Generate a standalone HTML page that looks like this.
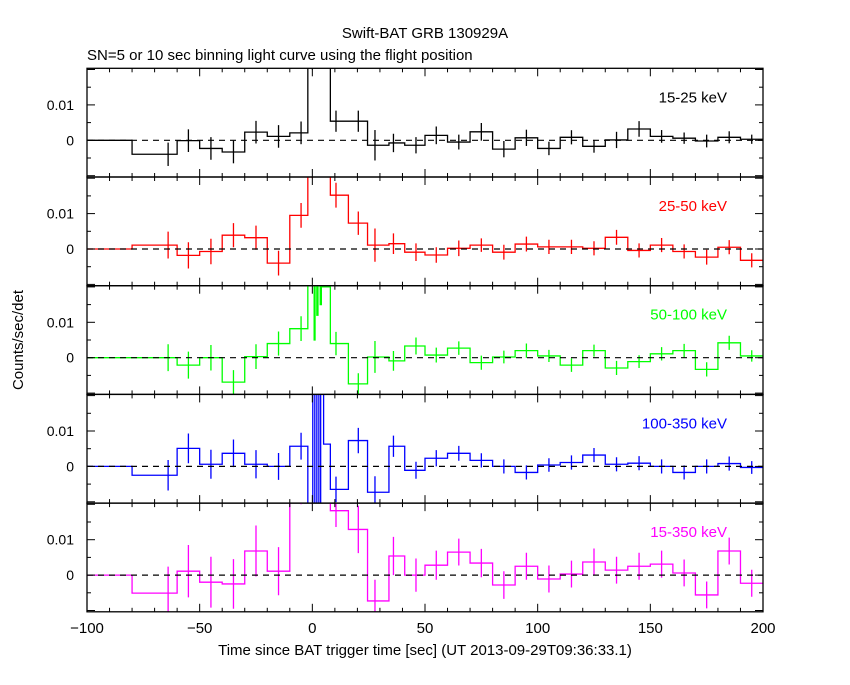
<!DOCTYPE html>
<html><head><meta charset="utf-8"><style>
body{margin:0;background:#fff;}
svg text{font-family:"Liberation Sans",sans-serif;}
</style></head><body>
<svg id="c" width="850" height="680" xmlns="http://www.w3.org/2000/svg">
<rect width="850" height="680" fill="#fff"/>
<text x="425" y="38" font-size="15" text-anchor="middle">Swift-BAT GRB 130929A</text>
<text x="87" y="60" font-size="15">SN=5 or 10 sec binning light curve using the flight position</text>
<text transform="translate(23,340) rotate(-90)" font-size="15" text-anchor="middle">Counts/sec/det</text>
<text x="425" y="655" font-size="15" text-anchor="middle">Time since BAT trigger time [sec] (UT 2013-09-29T09:36:33.1)</text>
</svg>
<script>
const edges=[-100,-80,-60,-50,-40,-30,-20,-10,-2,8,16,24.5,34,41,50,60,70,80,90,100,110,120,130,140,150,160,170,180,190,200];
const errX=[null,-64,-55,-45,-35,-25,-15,-5,0,10.5,20.4,27.8,36,46,55,65,75,85,95,105,115,125,135,145,155,165,175,185,195];
const bandLabels=["15-25 keV","25-50 keV","50-100 keV","100-350 keV","15-350 keV"];
const bandColors=["#000","#f00","#0f0","#00f","#f0f"];
const v1=[0,-3.95,-0.1,-2.3,-3.3,2.3,1.1,2.1,40,5.4,5.4,-1.4,-0.75,-1.4,1.4,-0.5,2.4,-2.5,0.7,-2.3,0.85,-1.7,0.1,3.2,1.1,0.6,-0.2,0.85,0.3];
const e1=[0,3.3,3.2,3.2,3.2,3.2,3.2,3.2,20,3,3,4.3,2.6,2.3,2.5,2.1,2.5,2.3,2.3,1.9,2,1.8,2.3,2.2,1.8,1.6,1.8,1.7,1.3];
const v2=[0,1.1,-1.8,-0.7,3.9,3.2,-4.0,9.5,40,15.2,7.3,1.1,1.5,-0.9,-1.7,0.2,1.1,-0.9,1.4,0.6,0.6,0.2,3.3,-0.4,1.1,-0.7,-2.3,0.5,-3.2];
const e2=[0,3.8,3.7,3.6,3.4,3.4,3.5,3.5,20,3.5,3.3,4.7,2.9,2.5,2.2,2.2,1.9,2.1,2.1,2,2,2,2.1,2,2,2,2.1,2,2];
const v3=[0,0,-2.1,0,-6.9,0.3,4.0,8.2,null,4.0,-7.4,0.2,-0.9,3.3,0.75,2.7,-1.4,0.2,2.0,0.5,-2.1,2.0,-2.9,-1.1,1.1,2.0,-3.3,4.2,0.5];
const e3=[0,3.8,3.8,3.6,3.4,3.5,3.4,3.5,0,3.3,3,4.5,2.8,2.4,2.1,1.9,2,1.8,2,1.7,1.9,1.7,2,1.8,1.9,1.9,2,2,1.6];
const v4=[0,-2.5,5.1,0.6,3.7,0.6,0,5.7,null,-6.5,7.3,-7.3,5.7,-1.1,2.3,3.7,1.7,0,-1.7,0.4,1.1,3.2,0.6,0.9,0,-1.7,0,0.8,-0.3];
const e4=[0,4.3,4.2,4.1,3.9,4,3.8,3.8,0,3.6,3.6,4.5,3,2.4,2.3,2.1,2,2,2,1.9,2,2,2,2,2,2,2,2,1.8];
const v5=[0,-5.1,1.1,-2.0,-2.5,6.8,1.1,30,40,18.2,12.9,-7.3,5.4,0,2.8,6.5,3.4,-2.8,2.5,-1.1,0.3,3.7,1.4,2.5,3.1,0.6,-5.6,6.8,-2.3];
const e5=[0,7.5,7.4,7.2,7,7.2,6.8,10,20,4.6,6.7,6,5.4,4.7,4.1,3.8,4,3.9,3.8,3.8,3.8,3.8,3.8,3.8,3.8,3.8,3.8,3.8,3.8];
const spikeEdges3=[-2,0.8,1.2,2,2.5,3.5,4,8];
const spikeVals3=[30,5,30,12,30,15,20];
const spikeEdges4=[-2,0.2,1.1,2.0,2.9,3.7,5,8];
const spikeVals4=[-12,25,-12,25,-12,25,6.3];
const xTicks=[-100,-50,0,50,100,150,200];
const yTickVals=[0,10];
const yTickLabels=["0","0.01"];

const vals=[v1,v2,v3,v4,v5], errs=[e1,e2,e3,e4,e5];
const spikes=[null,null,[spikeEdges3,spikeVals3],[spikeEdges4,spikeVals4],null];
const X0=87,X1=763,PXV=3.54;
const sx=t=>X0+(t+100)*(X1-X0)/300;
const svg=document.getElementById('c');
const NS='http://www.w3.org/2000/svg';
function mk(tag,attrs,parent){const el=document.createElementNS(NS,tag);for(const k in attrs)el.setAttribute(k,attrs[k]);(parent||svg).appendChild(el);return el;}
const defs=mk('defs',{});
for(let p=0;p<5;p++){
  const zero=140.3+p*108.7, top=zero-72, bot=zero+36.7;
  const sy=v=>zero-v*PXV;
  const cp=mk('clipPath',{id:'cp'+p},defs);
  mk('rect',{x:X0,y:top,width:X1-X0,height:bot-top},cp);
  const g=mk('g',{'clip-path':'url(#cp'+p+')'});
  
  
  const bins=[];
  for(let i=0;i<vals[p].length;i++){
    if(vals[p][i]===null&&spikes[p]){const [se,sv]=spikes[p];for(let j=0;j<sv.length;j++)bins.push([se[j],se[j+1],sv[j]]);}
    else bins.push([edges[i],edges[i+1],vals[p][i]]);
  }
  let d='';
  bins.forEach((b,i)=>{d+=(i?'L':'M')+sx(b[0]).toFixed(2)+','+sy(b[2]).toFixed(2)+'L'+sx(b[1]).toFixed(2)+','+sy(b[2]).toFixed(2);});
  const line=mk('path',{d:d,fill:'none',stroke:bandColors[p],'stroke-width':1.3},g);
  
  
  for(let i=0;i<vals[p].length;i++){
    if(!errs[p][i]||errX[i]===null||vals[p][i]===null)continue;
    const eb=mk('line',{x1:sx(errX[i]),x2:sx(errX[i]),y1:sy(vals[p][i]-errs[p][i]),y2:sy(vals[p][i]+errs[p][i]),stroke:bandColors[p],'stroke-width':1.3},g);
    
    
  }
  const zl=mk('line',{x1:X0,x2:X1,y1:zero,y2:zero,stroke:'#000','stroke-width':1.2,'stroke-dasharray':'6,5'});
  
  
  const fr=mk('rect',{x:X0,y:top,width:X1-X0,height:bot-top,fill:'none',stroke:'#000','stroke-width':1.3});
  
  
  for(let t=-100;t<=200;t+=10){
    const L=(t%50===0)?8:4;
    mk('line',{x1:sx(t),x2:sx(t),y1:top,y2:top+L,stroke:'#000','stroke-width':1});
    mk('line',{x1:sx(t),x2:sx(t),y1:bot,y2:bot-L,stroke:'#000','stroke-width':1});
  }
  for(let v=-10;v<=20;v+=5){
    const y=sy(v);if(y<top+1||y>bot-1)continue;
    const L=(v%10===0)?8:4;
    mk('line',{x1:X0,x2:X0+L,y1:y,y2:y,stroke:'#000','stroke-width':1});
    mk('line',{x1:X1,x2:X1-L,y1:y,y2:y,stroke:'#000','stroke-width':1});
  }
  yTickVals.forEach((v,k)=>{
    const t=mk('text',{x:74,y:sy(v)+5,'font-size':14,'text-anchor':'end'});
    t.textContent=yTickLabels[k];
    
    
  });
  const lb=mk('text',{x:727,y:zero-38,'font-size':15,'text-anchor':'end',fill:bandColors[p]});
  lb.textContent=bandLabels[p];
  
  
}
xTicks.forEach(t=>{
  const tx=mk('text',{x:sx(t),y:633,'font-size':15,'text-anchor':'middle'});
  tx.textContent=String(t).replace('-','\u2212');
  
  
});
</script>
</body></html>
